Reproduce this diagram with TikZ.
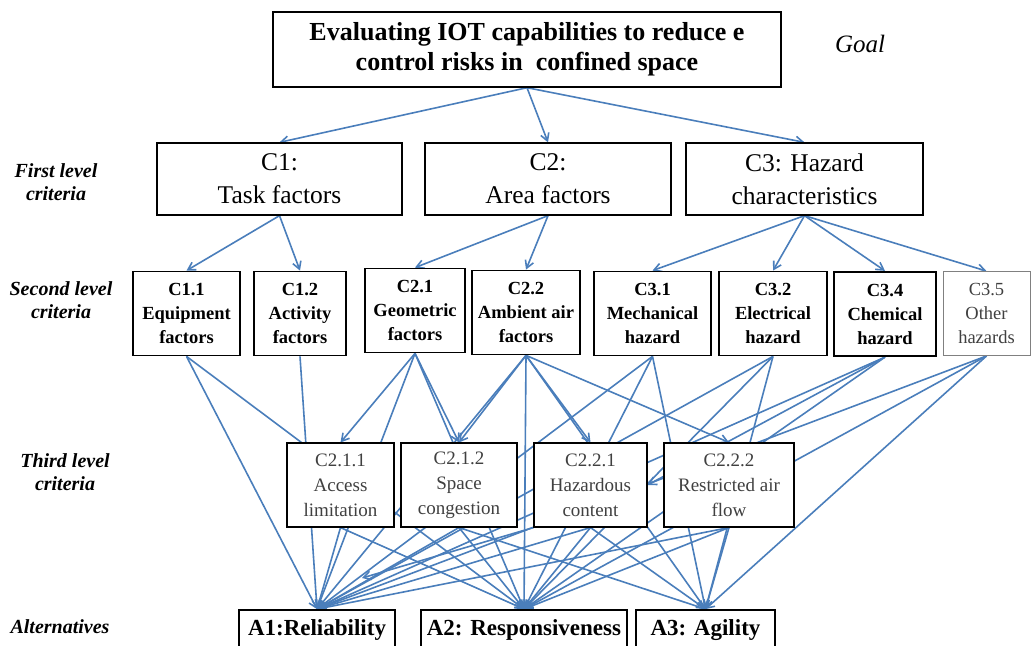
\documentclass[tikz,border=0pt]{standalone}
\usepackage{fontspec}
\setmainfont{Liberation Serif}
\usetikzlibrary{arrows.meta}
\definecolor{linkblue}{RGB}{74,126,187}
\definecolor{thirdgray}{RGB}{64,64,64}
\pgfdeclarelayer{background}
\pgfsetlayers{background,main}

\begin{document}
\begin{tikzpicture}[x=1pt,y=-1pt,
    goalbox/.style={rectangle,draw,line width=1.4pt,fill=white,minimum width=508pt,minimum height=75pt,inner sep=0pt,align=center,font=\fontsize{26}{30}\selectfont\bfseries},
    firstbox/.style={rectangle,draw,line width=1.3pt,fill=white,minimum height=72pt,inner sep=0pt,align=center,font=\fontsize{25.5}{33}\selectfont},
    secondbox/.style={rectangle,draw,line width=1.8pt,fill=white,minimum height=84pt,inner sep=0pt,align=center,font=\fontsize{18.5}{24}\selectfont\bfseries},
    thirdbox/.style={rectangle,draw,line width=1.1pt,fill=white,minimum height=84pt,inner sep=0pt,align=center,text=thirdgray,font=\fontsize{19}{25}\selectfont},
    altbox/.style={rectangle,draw,line width=1.8pt,fill=white,minimum height=40pt,inner sep=0pt,align=center,font=\fontsize{23}{25}\selectfont\bfseries},
    levellabel/.style={align=center,font=\fontsize{20}{23}\selectfont\bfseries\itshape},
    link/.style={-{Straight Barb[length=2.6mm,width=3mm]},draw=linkblue,line width=1.6pt}
    ]
    \useasboundingbox (0,0) rectangle (1032,645);

    % goal
    \node[goalbox] (goal) at (527,49.5) {Evaluating IOT capabilities to reduce e\\control risks in\ \ confined space};
    \node[font=\fontsize{25}{28}\selectfont\itshape] (goallabel) at (860,44) {Goal};

    % level labels
    \node[levellabel] (lab1) at (56,182) {First level\\criteria};
    \node[levellabel] (lab2) at (61,300) {Second level\\criteria};
    \node[levellabel] (lab3) at (65,472) {Third level\\criteria};
    \node[levellabel] (lab4) at (60,627) {Alternatives};

    % first level
    \node[firstbox,minimum width=245pt] (c1) at (279.5,179) {C1:\\Task factors};
    \node[firstbox,minimum width=246pt] (c2) at (548,179) {C2:\\Area factors};
    \node[firstbox,minimum width=237pt] (c3) at (804.5,179) {C3: Hazard\\characteristics};

    % second level
    \node[secondbox,minimum width=107pt] (c11) at (186.5,313.5) {C1.1\\Equipment\\factors};
    \node[secondbox,minimum width=92pt] (c12) at (300,313.5) {C1.2\\Activity\\factors};
    \node[secondbox,minimum width=100pt] (c21) at (415,310.5) {C2.1\\Geometric\\factors};
    \node[secondbox,minimum width=108pt] (c22) at (526,312.5) {C2.2\\Ambient air\\factors};
    \node[secondbox,minimum width=117pt] (c31) at (652.5,313.5) {C3.1\\Mechanical\\hazard};
    \node[secondbox,minimum width=108pt] (c32) at (773,313.5) {C3.2\\Electrical\\hazard};
    \node[secondbox,minimum width=102pt,line width=2.2pt] (c34) at (885,314) {C3.4\\Chemical\\hazard};
    \node[secondbox,minimum width=87pt,line width=0.9pt,draw=gray,text=thirdgray,font=\fontsize{18.5}{24}\selectfont] (c35) at (986.5,313.5) {C3.5\\Other\\hazards};

    % third level
    \node[thirdbox,minimum width=107pt] (c211) at (340.5,485) {C2.1.1\\Access\\limitation};
    \node[thirdbox,minimum width=116pt] (c212) at (459,485) {C2.1.2\\Space\\congestion};
    \node[thirdbox,minimum width=113pt] (c221) at (590.5,485) {C2.2.1\\Hazardous\\content};
    \node[thirdbox,minimum width=130pt] (c222) at (729,485) {C2.2.2\\Restricted air\\flow};

    % alternatives
    \node[altbox,minimum width=156pt] (a1) at (317,630) {A1:Reliability};
    \node[altbox,minimum width=206pt] (a2) at (524,630) {A2: Responsiveness};
    \node[altbox,minimum width=139pt] (a3) at (705.5,630) {A3: Agility};
    \coordinate (a1stub) at (362,578);

    \begin{pgfonlayer}{background}
      \foreach \t in {c1,c2,c3} \draw[link] (goal.south)--(\t.north);
      \foreach \t in {c11,c12} \draw[link] (c1.south)--(\t.north);
      \foreach \t in {c21,c22} \draw[link] (c2.south)--(\t.north);
      \foreach \t in {c31,c32,c34,c35} \draw[link] (c3.south)--(\t.north);
      \foreach \s/\t in {c21/c211,c21/c212,c22/c212,c22/c221,c22/c222}
        \draw[link] (\s.south)--(\t.north);
      \foreach \s/\t in {c11/a1,c11/a2,c12/a1,c21/a1,c21/a2,c22/a1,c22/a2,c22/a3,
                         c31/a1,c31/a2,c31/a3,c32/a1,c32/a2,c32/a3,c34/a1,c34/a2,
                         c35/a1,c35/a2,c35/a3,c211/a1,c211/a2,
                         c212/a1,c212/a2,c212/a3,c221/a1,c221/a2,c221/a3,
                         c222/a1,c222/a2,c222/a3}
        \draw[link] (\s.south)--(\t.north);
      \draw[link] (c34.south)--(c221.east);
      \draw[link] (c221.south west)--(a1stub);
    \end{pgfonlayer}

  \end{tikzpicture}
\end{document}
